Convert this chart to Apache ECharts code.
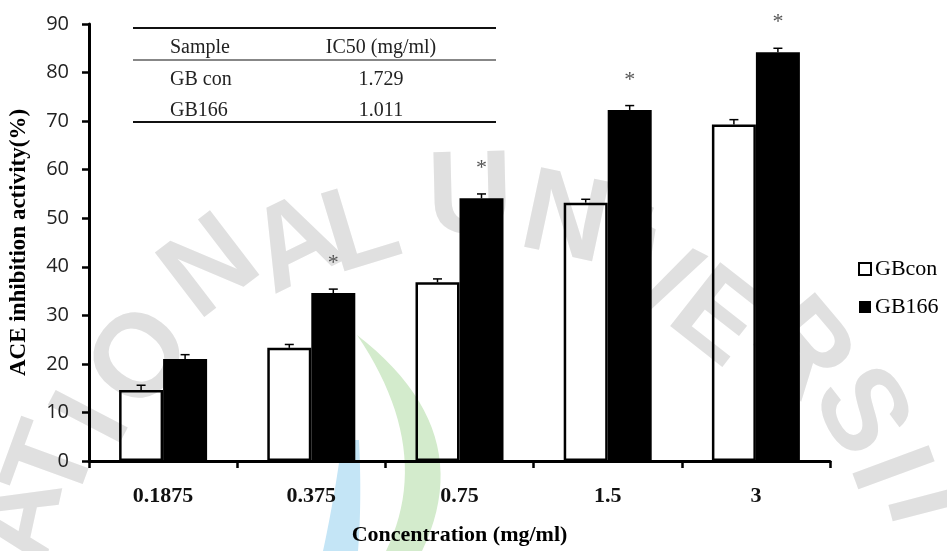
<!DOCTYPE html>
<html>
<head>
<meta charset="utf-8">
<script src="https://cdn.jsdelivr.net/npm/echarts@6/dist/echarts.min.js"></script>
<style>
  html, body { margin: 0; padding: 0; background: #ffffff; }
  #chart { width: 947px; height: 551px; }
</style>
</head>
<body>
<div id="chart"></div>
<script>
// Concentrations tested (mg/ml)
const categories = ['0.1875', '0.375', '0.75', '1.5', '3'];

// ACE inhibition activity (%) and standard errors
const gbconValues = [14.6, 23.3, 36.8, 53.2, 69.3];
const gbconErrors = [1.0, 0.7, 0.7, 0.7, 1.0];
const gb166Values = [21.0, 34.6, 54.1, 72.3, 84.2];
const gb166Errors = [0.9, 0.8, 0.9, 0.9, 0.8];
const gb166Marks = ['', '*', '*', '*', '*'];

// Y axis range
const yMin = 0, yMax = 90, yStep = 10;

// IC50 inset table
const tableHeader = ['Sample', 'IC50 (mg/ml)'];
const tableRows = [['GB con', '1.729'], ['GB166', '1.011']];

// Background seal lettering
const sealLetters = [
  ['A', 22, 520], ['T', 55, 465], ['I', 95, 420], ['O', 143, 360], ['N', 212, 270],
  ['A', 297, 247], ['L', 362, 232], ['U', 470, 200], ['N', 565, 222], ['I', 628, 250],
  ['V', 652, 282], ['E', 715, 320], ['R', 800, 350], ['S', 858, 413], ['I', 886, 470], ['T', 922, 505]
];

const BAR_W = 44;
const serif = '"Liberation Serif", "Times New Roman", serif';

function errorSeries(name, values, errors, marks, offset) {
  return {
    type: 'custom',
    name: name,
    silent: true,
    z: 5,
    encode: { x: 0, y: 1 },
    data: values.map((v, i) => [i, v, errors[i]]),
    renderItem(params, api) {
      const i = api.value(0), v = api.value(1), e = api.value(2);
      const base = api.coord([i, v]);
      const top = api.coord([i, v + e]);
      const x = base[0] + offset;
      const children = [
        { type: 'line', shape: { x1: x, y1: base[1], x2: x, y2: top[1] }, style: { stroke: '#000', lineWidth: 1.5 } },
        { type: 'line', shape: { x1: x - 4.5, y1: top[1], x2: x + 4.5, y2: top[1] }, style: { stroke: '#000', lineWidth: 1.5 } }
      ];
      const m = marks ? marks[params.dataIndex] : '';
      if (m) {
        children.push({
          type: 'text', x: x, y: base[1] - 30,
          style: { text: m, fill: '#555', font: '22px ' + serif, align: 'center', verticalAlign: 'middle' }
        });
      }
      return { type: 'group', children: children };
    }
  };
}

// crescent outline sampled from two quadratic curves
function crescent(a0, c0, a1, b1, c1, b0) {
  const pts = [];
  const q = (p, c, r, t) => [
    (1 - t) * (1 - t) * p[0] + 2 * (1 - t) * t * c[0] + t * t * r[0],
    (1 - t) * (1 - t) * p[1] + 2 * (1 - t) * t * c[1] + t * t * r[1]
  ];
  for (let k = 0; k <= 24; k++) pts.push(q(a0, c0, a1, k / 24));
  for (let k = 0; k <= 24; k++) pts.push(q(b1, c1, b0, k / 24));
  return pts;
}

const graphics = [];
// seal lettering and swooshes behind the plot
const cx = 480, cy = 620;
sealLetters.forEach(([ch, x, y]) => {
  graphics.push({
    type: 'text', z: -5, silent: true, x: x, y: y,
    rotation: Math.atan2(-(x - cx), -(y - cy)),
    style: { text: ch, font: 'bold 118px "Liberation Sans", Arial, sans-serif', fill: '#e0e0e0', align: 'center', verticalAlign: 'middle' }
  });
});
graphics.push({
  type: 'polygon', z: -4, silent: true,
  shape: { points: crescent([357, 335], [480, 430], [422, 551], [386, 551], [435, 450], [357, 335]) },
  style: { fill: '#d3ebcc' }
});
graphics.push({
  type: 'polygon', z: -4, silent: true,
  shape: { points: crescent([359, 440], [362, 500], [358, 551], [323, 551], [336, 490], [342, 440]) },
  style: { fill: '#c4e5f6' }
});
// inset table rules
[[28, 2], [60, 1.2], [122, 2]].forEach(([y, w]) => {
  graphics.push({ type: 'line', z: 10, shape: { x1: 133, y1: y, x2: 496, y2: y }, style: { stroke: '#111', lineWidth: w } });
});
const rowY = [48, 80, 111];
[tableHeader].concat(tableRows).forEach((row, r) => {
  graphics.push({ type: 'text', z: 10, x: 170, y: rowY[r], style: { text: row[0], font: '20px ' + serif, fill: '#222', align: 'left', verticalAlign: 'middle' } });
  graphics.push({ type: 'text', z: 10, x: 381, y: rowY[r], style: { text: row[1], font: '20px ' + serif, fill: '#222', align: 'center', verticalAlign: 'middle' } });
});

const option = {
  animation: false,
  backgroundColor: '#ffffff',
  grid: { left: 89, right: 117, top: 24, bottom: 88, containLabel: false },
  legend: {
    orient: 'vertical', left: 853, top: 253,
    itemWidth: 12, itemHeight: 12, itemGap: 16, icon: 'rect',
    data: ['GBcon', 'GB166'],
    textStyle: { fontFamily: serif, fontSize: 22, color: '#000', padding: [0, 0, 0, -1] }
  },
  xAxis: {
    type: 'category',
    data: categories,
    axisLine: { lineStyle: { color: '#000', width: 3 } },
    axisTick: { show: true, length: 7, alignWithLabel: false, lineStyle: { color: '#000', width: 2.5 } },
    axisLabel: { fontFamily: serif, fontWeight: 'bold', fontSize: 22, color: '#111', margin: 24 },
    name: 'Concentration (mg/ml)',
    nameLocation: 'middle', nameGap: 63,
    nameTextStyle: { fontFamily: serif, fontWeight: 'bold', fontSize: 22, color: '#000' }
  },
  yAxis: {
    type: 'value', min: yMin, max: yMax, interval: yStep,
    axisLine: { show: true, lineStyle: { color: '#000', width: 3 } },
    axisTick: { show: true, length: 7, lineStyle: { color: '#000', width: 2.5 } },
    splitLine: { show: false },
    axisLabel: { fontFamily: '"Open Sans", sans-serif', fontSize: 20, color: '#222', margin: 20 },
    name: 'ACE inhibition activity(%)',
    nameLocation: 'middle', nameGap: 58,
    nameTextStyle: { fontFamily: serif, fontWeight: 'bold', fontSize: 23, color: '#000' }
  },
  series: [
    {
      name: 'GBcon', type: 'bar', data: gbconValues, barWidth: BAR_W, barGap: '0%',
      itemStyle: { color: 'rgba(255,255,255,0)', borderColor: '#000', borderWidth: 2.5 },
      z: 2
    },
    {
      name: 'GB166', type: 'bar', data: gb166Values, barWidth: BAR_W, barGap: '0%',
      itemStyle: { color: '#000000', borderColor: '#000', borderWidth: 0 },
      z: 2
    },
    errorSeries('GBcon SE', gbconValues, gbconErrors, null, -BAR_W / 2),
    errorSeries('GB166 SE', gb166Values, gb166Errors, gb166Marks, BAR_W / 2)
  ],
  graphic: graphics
};

const chart = echarts.init(document.getElementById('chart'), null, { renderer: 'canvas' });
chart.setOption(option);
</script>
</body>
</html>
